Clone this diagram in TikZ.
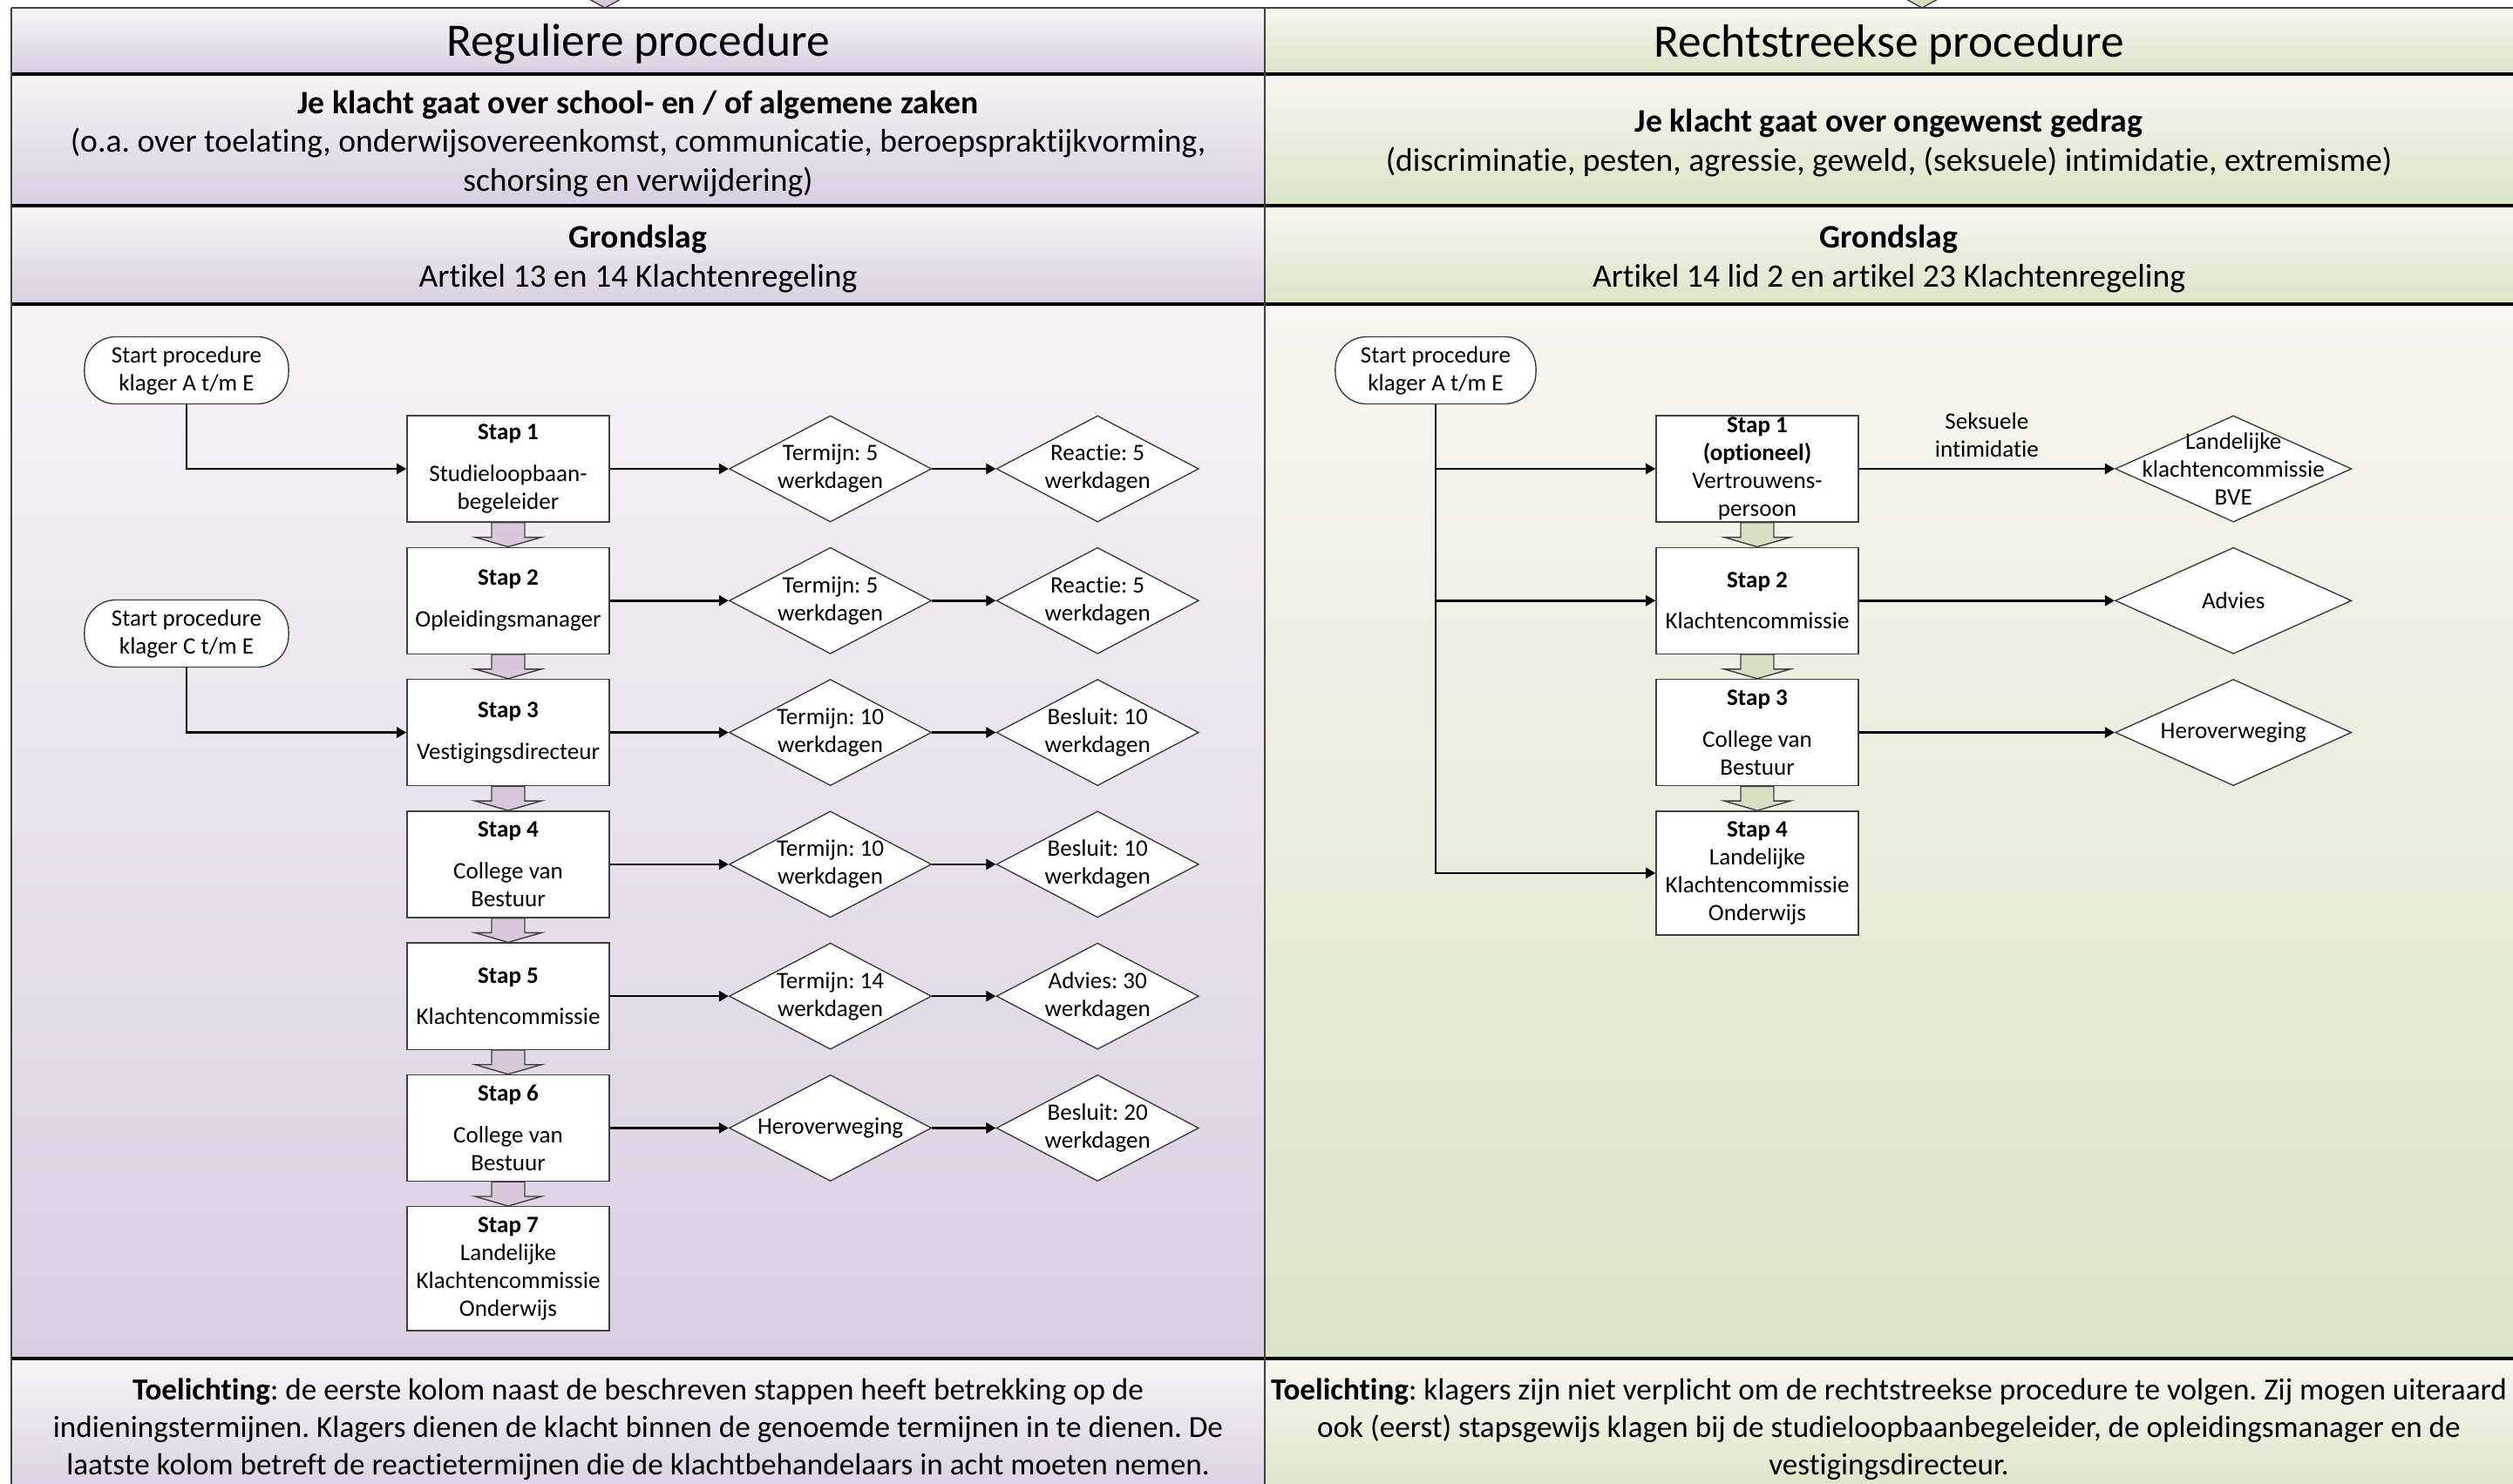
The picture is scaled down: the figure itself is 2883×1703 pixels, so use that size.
\documentclass[tikz,border=0pt]{standalone}
\usepackage{fontspec}
\setmainfont{Carlito}[Ligatures=NoCommon]
\usetikzlibrary{arrows.meta, positioning, calc, shapes.geometric}

\definecolor{lavtop}{HTML}{F8F4F5}
\definecolor{lavbot}{HTML}{D8CFE2}
\definecolor{grtop}{HTML}{F8F6F2}
\definecolor{grbot}{HTML}{DBE4C6}
\definecolor{lavarrow}{HTML}{D9C7DB}
\definecolor{grarrow}{HTML}{D6DFC2}
\definecolor{edge}{HTML}{404040}

\newcommand{\boxfont}{\fontsize{7.7}{9.1}\selectfont}
\newcommand{\bandfont}{\fontsize{10.7}{12.6}\selectfont}
\newcommand{\notefont}{\fontsize{10}{12.2}\selectfont}

\tikzset{
  stepbox/.style={draw=edge, line width=0.4pt, fill=white, minimum width=2.32cm,
    minimum height=1.22cm, inner sep=0pt, align=center, font=\boxfont},
  tallbox/.style={stepbox, minimum height=1.42cm},
  startbox/.style={draw=edge, line width=0.4pt, fill=white, rounded corners=0.36cm,
    minimum width=2.34cm, minimum height=0.77cm, inner sep=0pt, align=center, font=\boxfont},
  termijn/.style={shape=diamond, draw=edge, line width=0.4pt, fill=white,
    minimum width=2.32cm, minimum height=1.22cm, inner sep=0pt,
    label={[align=center, font=\boxfont]center:{#1}}},
  wide termijn/.style={termijn={#1}, minimum width=2.71cm},
  arr/.style={-{Triangle[length=1.1mm, width=1.2mm]}, line width=0.7pt},
  sep/.style={line width=0.9pt},
}

% blokpijl van stap naar stap
\newcommand{\stepflow}[3]{%
  \draw[edge, line width=0.4pt, fill=#3]
    ($(#1.south)+(-19,0)$) -- ($(#2.north)+(-19,-11)$) -- ($(#2.north)+(-38,-11)$)
    -- (#2.north) -- ($(#2.north)+(38,-11)$) -- ($(#2.north)+(19,-11)$)
    -- ($(#1.south)+(19,0)$) -- cycle;}

\begin{document}
\frenchspacing
\begin{tikzpicture}[x=0.01cm, y=-0.01cm]
  \useasboundingbox (0,0) rectangle (2883,1703);

  % achtergrond
  \foreach \ya/\yb in {9/85, 85/236, 236/349, 349/1559, 1559/1721}{
    \shade[top color=lavtop, bottom color=lavbot] (13,\ya) rectangle (1451,\yb);
    \shade[top color=grtop, bottom color=grbot] (1451,\ya) rectangle (2883,\yb);
  }
  \draw[edge, line width=0.4pt, fill=lavarrow] (674,-2) -- (714,-2) -- (694,9) -- cycle;
  \draw[edge, line width=0.4pt, fill=grarrow] (2185,-2) -- (2225,-2) -- (2205,9) -- cycle;
  \draw[edge, line width=0.6pt] (13,9) -- (2883,9);
  \foreach \y in {85, 236, 349, 1559}
    \draw[sep] (13,\y) -- (2883,\y);
  \draw[edge, line width=0.6pt] (13,9) -- (13,1703) (1451,9) -- (1451,1703);

  % koppen
  \node[font=\fontsize{15.2}{18}\selectfont] (titleL) at (732,51) {Reguliere procedure};
  \node[font=\fontsize{15.2}{18}\selectfont] (titleR) at (2167,51) {Rechtstreekse procedure};
  \node[font=\bandfont, align=center] (topicL) at (732,165)
    {\textbf{Je klacht gaat over school- en / of algemene zaken}\\
     (o.a. over toelating, onderwijsovereenkomst, communicatie, beroepspraktijkvorming,\\
     schorsing en verwijdering)};
  \node[font=\bandfont, align=center] (topicR) at (2167,164)
    {\textbf{Je klacht gaat over ongewenst gedrag}\\
     (discriminatie, pesten, agressie, geweld, (seksuele) intimidatie, extremisme)};
  \node[font=\bandfont, align=center] (baseL) at (732,297)
    {\textbf{Grondslag}\\Artikel 13 en 14 Klachtenregeling};
  \node[font=\bandfont, align=center] (baseR) at (2167,297)
    {\textbf{Grondslag}\\Artikel 14 lid 2 en artikel 23 Klachtenregeling};

  % reguliere procedure
  \node[startbox] (s1) at (214,425) {Start procedure\\klager A t/m E};
  \node[startbox] (s2) at (214,727) {Start procedure\\klager C t/m E};

  \node[stepbox] (st1) at (583,538) {\textbf{Stap 1}\\[4.5pt]Studieloopbaan-\\begeleider};
  \node[stepbox, below=0.278cm of st1] (st2) {\textbf{Stap 2}\\[4.5pt]Opleidingsmanager};
  \node[stepbox, below=0.278cm of st2] (st3) {\textbf{Stap 3}\\[4.5pt]Vestigingsdirecteur};
  \node[stepbox, below=0.278cm of st3] (st4) {\textbf{Stap 4}\\[4.5pt]College van\\Bestuur};
  \node[stepbox, below=0.278cm of st4] (st5) {\textbf{Stap 5}\\[4.5pt]Klachtencommissie};
  \node[stepbox, below=0.278cm of st5] (st6) {\textbf{Stap 6}\\[4.5pt]College van\\Bestuur};
  \node[tallbox, below=0.278cm of st6] (st7) {\textbf{Stap 7}\\Landelijke\\Klachtencommissie\\Onderwijs};

  \node[termijn={Termijn: 5\\werkdagen}, right=1.36cm of st1] (t1) {};
  \node[termijn={Reactie: 5\\werkdagen}, right=0.73cm of t1] (r1) {};
  \node[termijn={Termijn: 5\\werkdagen}, right=1.36cm of st2] (t2) {};
  \node[termijn={Reactie: 5\\werkdagen}, right=0.73cm of t2] (r2) {};
  \node[termijn={Termijn: 10\\werkdagen}, right=1.36cm of st3] (t3) {};
  \node[termijn={Besluit: 10\\werkdagen}, right=0.73cm of t3] (r3) {};
  \node[termijn={Termijn: 10\\werkdagen}, right=1.36cm of st4] (t4) {};
  \node[termijn={Besluit: 10\\werkdagen}, right=0.73cm of t4] (r4) {};
  \node[termijn={Termijn: 14\\werkdagen}, right=1.36cm of st5] (t5) {};
  \node[termijn={Advies: 30\\werkdagen}, right=0.73cm of t5] (r5) {};
  \node[termijn={Heroverweging}, right=1.36cm of st6] (t6) {};
  \node[termijn={Besluit: 20\\werkdagen}, right=0.73cm of t6] (r6) {};

  \draw[arr] (s1.south) |- (st1.west);
  \draw[arr] (s2.south) |- (st3.west);
  \foreach \n in {1,...,6}{
    \draw[arr] (st\n.east) -- (t\n.west);
    \draw[arr] (t\n.east) -- (r\n.west);
  }
  \foreach \a/\b in {st1/st2, st2/st3, st3/st4, st4/st5, st5/st6, st6/st7}
    \stepflow{\a}{\b}{lavarrow};

  % rechtstreekse procedure
  \node[startbox, minimum width=2.30cm] (rs) at (1647,425) {Start procedure\\klager A t/m E};

  \node[stepbox] (rst1) at (2016,538)
    {\textbf{Stap 1}\\\textbf{(optioneel)}\\Vertrouwens-\\persoon};
  \node[stepbox, below=0.278cm of rst1] (rst2) {\textbf{Stap 2}\\[4.5pt]Klachtencommissie};
  \node[stepbox, below=0.278cm of rst2] (rst3) {\textbf{Stap 3}\\[4.5pt]College van\\Bestuur};
  \node[tallbox, below=0.278cm of rst3] (rst4) {\textbf{Stap 4}\\Landelijke\\Klachtencommissie\\Onderwijs};

  \node[wide termijn={Landelijke\\klachtencommissie\\BVE}, right=2.93cm of rst1] (rd1) {};
  \node[wide termijn={Advies}, right=2.93cm of rst2] (rd2) {};
  \node[wide termijn={Heroverweging}, right=2.93cm of rst3] (rd3) {};

  \draw[arr] (rs.south) |- (rst1.west);
  \draw[arr] (rs.south) |- (rst2.west);
  \draw[arr] (rs.south) |- (rst4.west);
  \draw[arr] (rst1.east) -- node[above, font=\boxfont, align=center] (si) {Seksuele\\intimidatie} (rd1.west);
  \draw[arr] (rst2.east) -- (rd2.west);
  \draw[arr] (rst3.east) -- (rd3.west);
  \foreach \a/\b in {rst1/rst2, rst2/rst3, rst3/rst4}
    \stepflow{\a}{\b}{grarrow};

  % toelichting
  \node[font=\notefont, align=center] (noteL) at (732,1640)
    {\textbf{Toelichting}: de eerste kolom naast de beschreven stappen heeft betrekking op de\\
     indieningstermijnen. Klagers dienen de klacht binnen de genoemde termijnen in te dienen. De\\
     laatste kolom betreft de reactietermijnen die de klachtbehandelaars in acht moeten nemen.};
  \node[font=\notefont, align=center] (noteR) at (2167,1640)
    {\textbf{Toelichting}: klagers zijn niet verplicht om de rechtstreekse procedure te volgen. Zij mogen uiteraard\\
     ook (eerst) stapsgewijs klagen bij de studieloopbaanbegeleider, de opleidingsmanager en de\\
     vestigingsdirecteur.};
\end{tikzpicture}
\end{document}
